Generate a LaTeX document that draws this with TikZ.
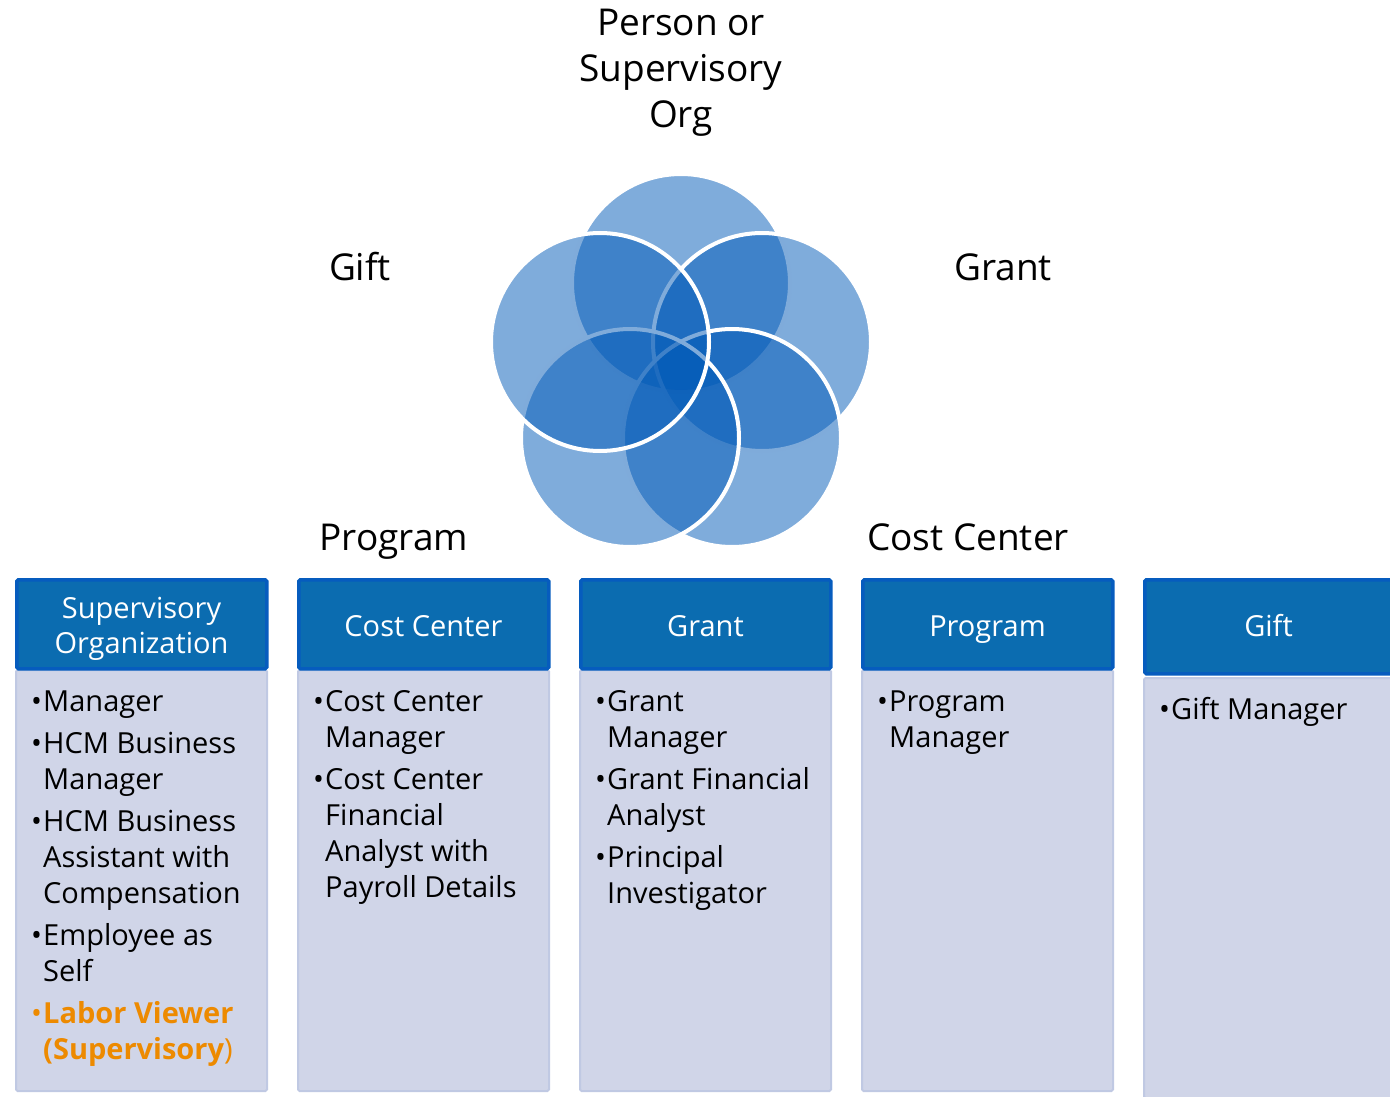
\documentclass[tikz,border=0pt]{standalone}
\usepackage{fontspec}
\setmainfont{Open Sans}
\definecolor{vennblue}{RGB}{0,89,183}
\definecolor{hdrfill}{RGB}{11,108,176}
\definecolor{hdredge}{RGB}{6,92,190}
\definecolor{bodyfill}{RGB}{208,213,232}
\definecolor{bodyedge}{RGB}{192,201,227}
\definecolor{labortxt}{RGB}{237,138,0}
% one bullet item with a hanging indent; optional colour for the whole item
\newcommand\itm[2][black]{\par\hangindent=15pt\noindent
  {\color{#1}\rule{0pt}{26pt}\makebox[15pt][l]{\hspace{3pt}\textbullet}#2}\par}
\newcommand\itemlist[1]{\begin{minipage}[t]{255pt}\raggedright
  \fontsize{29}{36}\selectfont\setlength\parskip{6pt}#1\end{minipage}}
\begin{document}
\begin{tikzpicture}[x=1pt,y=-1pt,
  venn/.style={circle,minimum size=218pt,inner sep=0pt,fill=vennblue,
    fill opacity=0.5,draw=white,line width=4pt},
  toplabel/.style={font=\fontsize{37}{46}\selectfont,align=center,inner sep=0pt},
  hdr/.style={draw=hdredge,fill=hdrfill,line width=3.5pt,rounded corners=1.5pt,
    anchor=north west,inner sep=0pt},
  hdrtext/.style={text=white,align=center,inner sep=0pt,
    font=\fontsize{29}{35}\selectfont},
  bodybox/.style={draw=bodyedge,fill=bodyfill,line width=2pt,rounded corners=1.5pt,
    anchor=north west,inner sep=0pt},
  items/.style={anchor=north west,inner sep=0pt}]
\useasboundingbox (0,0) rectangle (1390,1097);

% five overlapping circles
\node[venn] (ctop) at (681,283) {};
\node[venn] (cright) at (762,342) {};
\node[venn] (cbr) at (732,438) {};
\node[venn] (cbl) at (630,438) {};
\node[venn] (cleft) at (600,342) {};

% labels around the circles
\node[toplabel] (lperson) at (681,73) {Person or\\Supervisory\\Org};
\node[toplabel,anchor=base] (lgift) at (360,280) {Gift};
\node[toplabel,anchor=base] (lgrant) at (1003,280) {Grant};
\node[toplabel,anchor=base] (lprogram) at (394,550) {Program};
\node[toplabel,anchor=base] (lcost) at (968,550) {Cost Center};

% column bodies
\node[bodybox,minimum width=251pt,minimum height=421pt] (b1) at (15,669) {};
\node[bodybox,minimum width=251pt,minimum height=421pt] (b2) at (297,669) {};
\node[bodybox,minimum width=251pt,minimum height=421pt] (b3) at (579,669) {};
\node[bodybox,minimum width=251pt,minimum height=421pt] (b4) at (861,669) {};
\node[bodybox,minimum width=255pt,minimum height=420pt] (b5) at (1143,677) {};

% column headers
\node[hdr,minimum width=250pt,minimum height=89pt] (h1) at (15,578) {};
\node[hdr,minimum width=250pt,minimum height=89pt] (h2) at (297,578) {};
\node[hdr,minimum width=250pt,minimum height=89pt] (h3) at (579,578) {};
\node[hdr,minimum width=250pt,minimum height=89pt] (h4) at (861,578) {};
\node[hdr,minimum width=250pt,minimum height=94pt] (h5) at (1143,578) {};
\node[hdrtext] (h1t) at (141.5,629) {Supervisory\\Organization};
\node[hdrtext,anchor=base] (h2t) at (423.5,636.5) {Cost Center};
\node[hdrtext,anchor=base] (h3t) at (705.5,636.5) {Grant};
\node[hdrtext,anchor=base] (h4t) at (987.5,636.5) {Program};
\node[hdrtext,anchor=base] (h5t) at (1268.5,636.5) {Gift};

% column contents
\node[items] (t1) at (28,685) {\itemlist{%
  \itm{Manager}
  \itm{HCM Business\newline Manager}
  \itm{HCM Business\newline Assistant with\newline Compensation}
  \itm{Employee as\newline Self}
  \itm[labortxt]{\bfseries Labor Viewer\newline (Supervisory{\mdseries)}}}};
\node[items] (t2) at (310,685) {\itemlist{%
  \itm{Cost Center\newline Manager}
  \itm{Cost Center\newline Financial\newline Analyst with\newline Payroll Details}}};
\node[items] (t3) at (592,685) {\itemlist{%
  \itm{Grant\newline Manager}
  \itm{Grant Financial\newline Analyst}
  \itm{Principal\newline Investigator}}};
\node[items] (t4) at (874,685) {\itemlist{%
  \itm{Program\newline Manager}}};
\node[items] (t5) at (1156,693) {\itemlist{%
  \itm{Gift Manager}}};
\end{tikzpicture}
\end{document}
